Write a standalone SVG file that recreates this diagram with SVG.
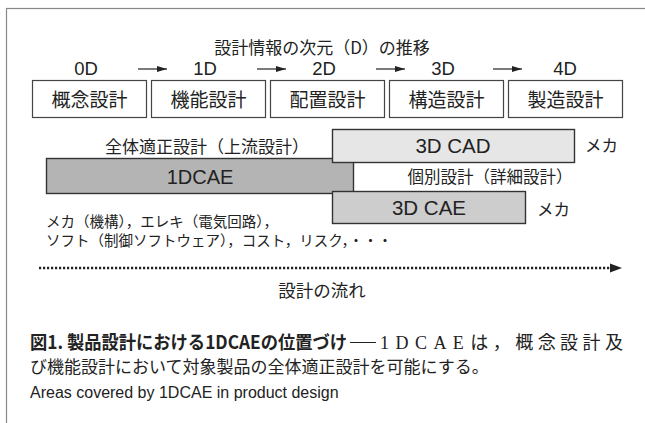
<svg xmlns="http://www.w3.org/2000/svg" width="645" height="423" viewBox="0 0 645 423">
<defs>
<style>
.jp{font-family:"Noto Sans CJK JP","Noto Sans",sans-serif;fill:#222}
.lat{font-family:"Liberation Sans",Arial,sans-serif;fill:#222}
.box{fill:#fff;stroke:#444;stroke-width:1.2}
.ln{stroke:#222;stroke-width:1.2;fill:none}
</style>
<marker id="ah" viewBox="0 0 10 6" refX="10" refY="3" markerWidth="10" markerHeight="6" markerUnits="userSpaceOnUse" orient="auto">
<path d="M0,0 L10,3 L0,6 Z" fill="#222"/>
</marker>
</defs>
<rect width="645" height="423" fill="#fff"/>
<rect x="6.5" y="8.5" width="700" height="500" fill="none" stroke="#888" stroke-width="1.2"/>

<text class="jp" x="322" y="54" font-size="17" text-anchor="middle">設計情報の次元（D）の推移</text>

<g id="dims" class="lat" font-size="18.5" text-anchor="middle">
<text x="86" y="75">0D</text>
<text x="205" y="75">1D</text>
<text x="324" y="75">2D</text>
<text x="443" y="75">3D</text>
<text x="565" y="75">4D</text>
</g>

<g id="connectors">
<line class="ln" x1="138" y1="69" x2="167" y2="69" marker-end="url(#ah)"/>
<line class="ln" x1="257" y1="69" x2="286" y2="69" marker-end="url(#ah)"/>
<line class="ln" x1="376" y1="69" x2="405" y2="69" marker-end="url(#ah)"/>
<line class="ln" x1="493" y1="69" x2="522" y2="69" marker-end="url(#ah)"/>
<line x1="39" y1="268" x2="612" y2="268" stroke="#222" stroke-width="2.4" stroke-dasharray="2.2,1.8"/>
<path d="M610,263.5 L622,268 L610,272.5 Z" fill="#222"/>
</g>

<g id="n1"><rect class="box" x="32.5" y="80.5" width="114" height="37"/><text class="jp" x="89.5" y="106.5" font-size="19" text-anchor="middle">概念設計</text></g>
<g id="n2"><rect class="box" x="151.5" y="80.5" width="114" height="37"/><text class="jp" x="208.5" y="106.5" font-size="19" text-anchor="middle">機能設計</text></g>
<g id="n3"><rect class="box" x="270.5" y="80.5" width="114" height="37"/><text class="jp" x="327.5" y="106.5" font-size="19" text-anchor="middle">配置設計</text></g>
<g id="n4"><rect class="box" x="389.5" y="80.5" width="114" height="37"/><text class="jp" x="446.5" y="106.5" font-size="19" text-anchor="middle">構造設計</text></g>
<g id="n5"><rect class="box" x="508.5" y="80.5" width="114" height="37"/><text class="jp" x="565.5" y="106.5" font-size="19" text-anchor="middle">製造設計</text></g>

<text class="jp" x="207" y="153" font-size="17" text-anchor="middle">全体適正設計（上流設計）</text>

<g id="cae1d"><rect x="46.5" y="158.5" width="307" height="35" fill="#b4b4b4" stroke="#333" stroke-width="1.4"/><text class="lat" x="200" y="184" font-size="20" text-anchor="middle">1DCAE</text></g>

<g id="cad3d"><rect x="332.5" y="129.5" width="242" height="33" fill="#e6e6e6" stroke="#333" stroke-width="1.4"/><text class="lat" x="453" y="153" font-size="20.5" text-anchor="middle">3D CAD</text></g>
<text class="jp" x="585" y="152" font-size="16.5">メカ</text>

<text class="jp" x="490" y="183" font-size="16.5" text-anchor="middle">個別設計（詳細設計）</text>

<g id="cae3d"><rect x="332.5" y="191.5" width="193" height="32" fill="#cdcdcd" stroke="#333" stroke-width="1.4"/><text class="lat" x="429" y="215" font-size="20.5" text-anchor="middle">3D CAE</text></g>
<text class="jp" x="537" y="216" font-size="16.5">メカ</text>

<text class="jp" x="46" y="227" font-size="14.5">メカ（機構），エレキ（電気回路），</text>
<text class="jp" x="46" y="246" font-size="14.5">ソフト（制御ソフトウェア），コスト，リスク，・・・</text>

<text class="jp" x="322" y="297" font-size="17.5" text-anchor="middle">設計の流れ</text>

<g id="caption">
<text class="jp" x="30" y="349" font-size="18.5" font-weight="bold" textLength="317" lengthAdjust="spacingAndGlyphs">図1. 製品設計における1DCAEの位置づけ</text>
<line x1="350" y1="342.5" x2="376" y2="342.5" stroke="#222" stroke-width="1"/>
<text class="jp" x="380" y="349" font-size="18" textLength="243" lengthAdjust="spacing"><tspan font-family="Liberation Serif" letter-spacing="2">1DCAE</tspan>は，概念設計及</text>
<text class="jp" x="30" y="373" font-size="17">び機能設計において対象製品の全体適正設計を可能にする。</text>
<text class="lat" x="30" y="398" font-size="16">Areas covered by 1DCAE in product design</text>
</g>
</svg>
